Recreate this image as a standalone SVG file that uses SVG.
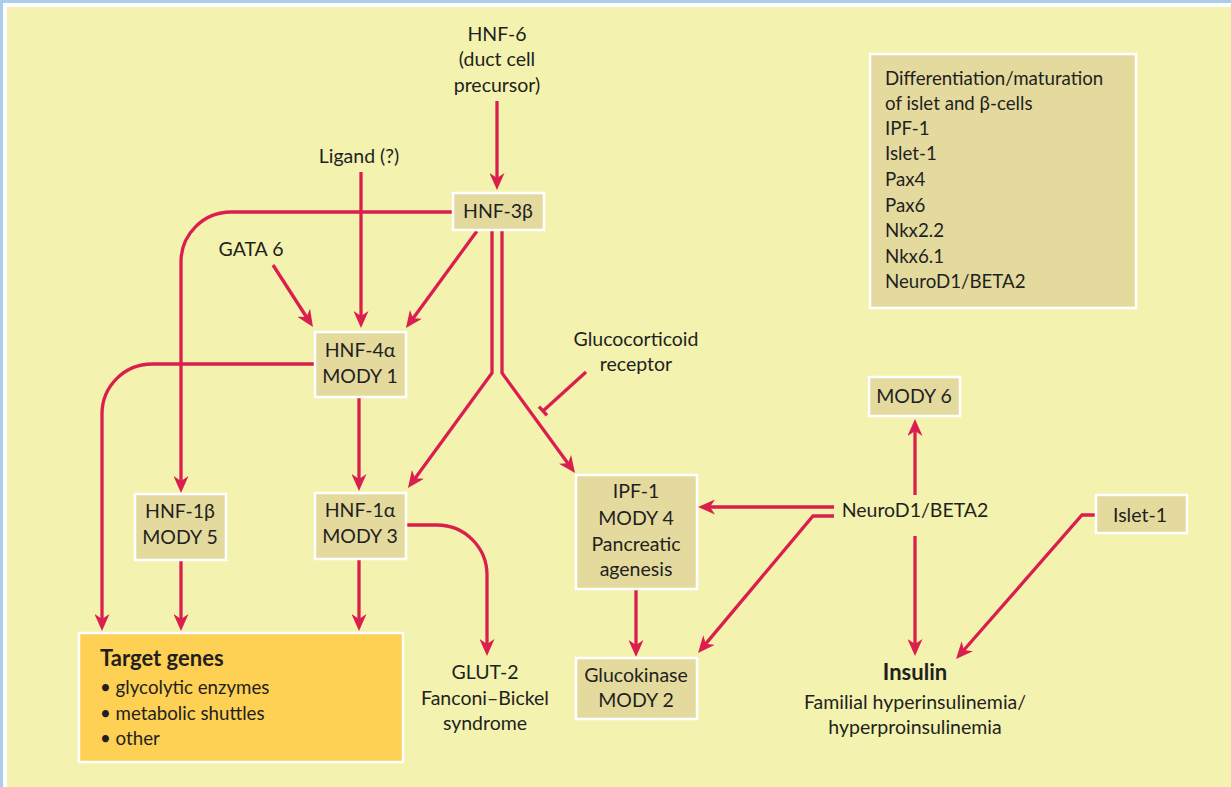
<svg xmlns="http://www.w3.org/2000/svg" width="1231" height="787" viewBox="0 0 1231 787">
<defs>
<marker id="ah" markerUnits="userSpaceOnUse" viewBox="0 0 17 15" markerWidth="17" markerHeight="15" refX="11" refY="7.5" orient="auto">
<path d="M0,0 L17,7.5 L0,15 L5,7.5 Z" fill="#DA1F4F"/>
</marker>
<style>
.t{font-family:Lato,"Open Sans","Liberation Sans",sans-serif;font-size:19.5px;fill:#231F20;text-anchor:middle}
.l{font-family:Lato,"Open Sans","Liberation Sans",sans-serif;font-size:18.7px;fill:#231F20}
.b{font-weight:bold;font-size:22px}
.box{fill:#E4DA9E;stroke:#FFFFFF;stroke-width:2.5}
.c{fill:none;stroke:#DA1F4F;stroke-width:3.3}
.a{marker-end:url(#ah)}
</style>
</defs>
<rect x="0" y="0" width="1231" height="787" fill="#AACDEC"/>
<rect x="3" y="3" width="1228" height="784" fill="#FFFFFF"/>
<rect x="7" y="7" width="1224" height="780" fill="#F3F2AF"/>

<g id="connectors">
<path class="c a" d="M497,101 V184"/>
<path class="c a" d="M361,172 V322"/>
<path class="c a" d="M453,212 H231 A50,50 0 0 0 181,262 V487"/>
<path class="c a" d="M273,265 L309.7,322"/>
<path class="c a" d="M477,231 L409.5,323.2"/>
<path class="c a" d="M315,364 H152 A50,50 0 0 0 102,414 V625"/>
<path class="c a" d="M359,397 V485"/>
<path class="c a" d="M492,230 V373 L411.5,483.2"/>
<path class="c a" d="M502,230 V373 L571.5,468.2"/>
<path class="c" d="M586,372 L543,411"/>
<path class="c" d="M539,406.6 L547,415.4"/>
<path class="c a" d="M181,560 V625"/>
<path class="c a" d="M359,559 V625"/>
<path class="c a" d="M406,525 H437 A50,50 0 0 1 487,575 V650"/>
<path class="c a" d="M636,589 V651"/>
<path class="c a" d="M834,507 H704"/>
<path class="c a" d="M834,516 H813 L701.9,648.4"/>
<path class="c a" d="M915,495 V425"/>
<path class="c a" d="M915,536 V650"/>
<path class="c a" d="M1096,515 H1082 L960,654.5"/>
</g>

<g id="hnf6"><text class="t" x="497" y="41">HNF-6</text><text class="t" x="497" y="66">(duct cell</text><text class="t" x="497" y="92">precursor)</text></g>
<g id="ligand"><text class="t" x="359" y="163">Ligand (?)</text></g>
<g id="gata6"><text class="t" x="251" y="256">GATA 6</text></g>
<g id="glucocorticoid"><text class="t" x="636" y="346">Glucocorticoid</text><text class="t" x="636" y="371">receptor</text></g>

<g id="hnf3b"><rect class="box" x="453" y="193" width="91" height="37"/><text class="t" x="498" y="218">HNF-3β</text></g>
<g id="hnf4a"><rect class="box" x="315" y="332" width="91" height="65"/><text class="t" x="360" y="357">HNF-4α</text><text class="t" x="360" y="383">MODY 1</text></g>
<g id="hnf1b"><rect class="box" x="135" y="494" width="91" height="66"/><text class="t" x="180" y="518">HNF-1β</text><text class="t" x="180" y="544">MODY 5</text></g>
<g id="hnf1a"><rect class="box" x="315" y="493" width="91" height="66"/><text class="t" x="360" y="517">HNF-1α</text><text class="t" x="360" y="543">MODY 3</text></g>
<g id="target"><rect x="79" y="633" width="324" height="129" fill="#FED054" stroke="#FFFFFF" stroke-width="2.5"/>
<text class="t b" x="100" y="666" style="text-anchor:start">Target genes</text>
<text class="l" x="100" y="694">• glycolytic enzymes</text>
<text class="l" x="100" y="720">• metabolic shuttles</text>
<text class="l" x="100" y="745">• other</text></g>
<g id="glut2"><text class="t" x="485" y="679">GLUT-2</text><text class="t" x="485" y="705">Fanconi–Bickel</text><text class="t" x="485" y="730">syndrome</text></g>
<g id="ipf1"><rect class="box" x="576" y="475" width="121" height="114"/><text class="t" x="636" y="498">IPF-1</text><text class="t" x="636" y="525">MODY 4</text><text class="t" x="636" y="551">Pancreatic</text><text class="t" x="636" y="576">agenesis</text></g>
<g id="glucokinase"><rect class="box" x="576" y="658" width="121" height="61"/><text class="t" x="636" y="682">Glucokinase</text><text class="t" x="636" y="707">MODY 2</text></g>
<g id="neurod1"><text class="t" x="915" y="517">NeuroD1/BETA2</text></g>
<g id="mody6"><rect class="box" x="869" y="377" width="91" height="39"/><text class="t" x="914" y="403">MODY 6</text></g>
<g id="islet1"><rect class="box" x="1096" y="495" width="91" height="38"/><text class="t" x="1140" y="522">Islet-1</text></g>
<g id="insulin"><text class="t b" x="915" y="680">Insulin</text><text class="t" x="915" y="709">Familial hyperinsulinemia/</text><text class="t" x="915" y="734">hyperproinsulinemia</text></g>
<g id="legend"><rect class="box" x="870" y="54" width="266" height="254"/>
<text class="l" x="885" y="85">Differentiation/maturation</text>
<text class="l" x="885" y="110">of islet and β-cells</text>
<text class="l" x="885" y="135">IPF-1</text>
<text class="l" x="885" y="160">Islet-1</text>
<text class="l" x="885" y="186">Pax4</text>
<text class="l" x="885" y="212">Pax6</text>
<text class="l" x="885" y="237">Nkx2.2</text>
<text class="l" x="885" y="263">Nkx6.1</text>
<text class="l" x="885" y="288">NeuroD1/BETA2</text></g>
</svg>
